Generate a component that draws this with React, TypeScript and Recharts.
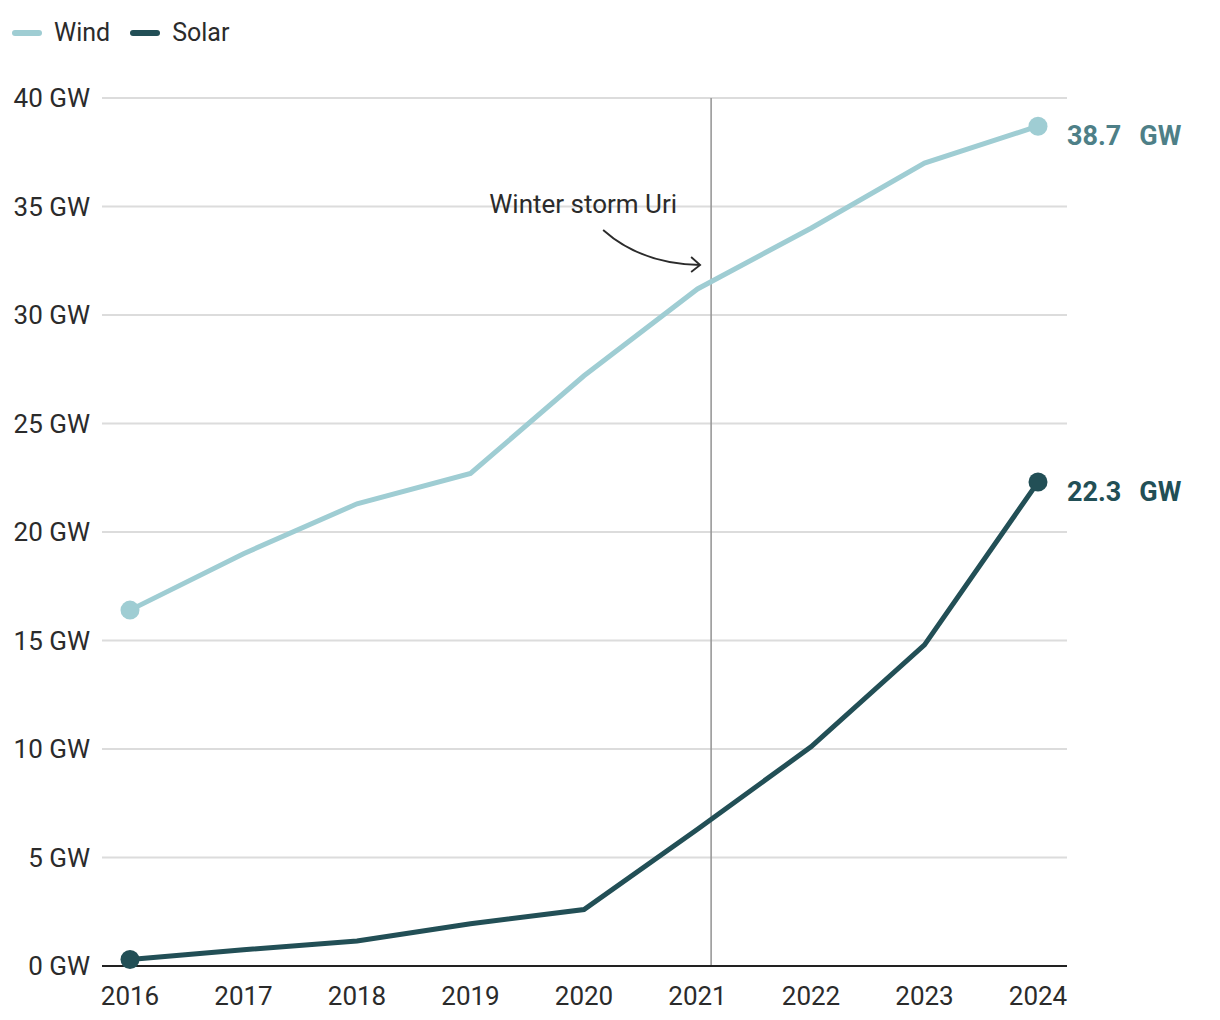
import React from 'react';
import {
  LineChart,
  Line,
  XAxis,
  YAxis,
  CartesianGrid,
  ReferenceLine,
  Legend,
} from 'recharts';

const years = [2016, 2017, 2018, 2019, 2020, 2021, 2022, 2023, 2024];
const wind = [16.4, 19.0, 21.3, 22.7, 27.2, 31.2, 34.0, 37.0, 38.7];
const solar = [0.3, 0.75, 1.15, 1.95, 2.6, 6.3, 10.1, 14.8, 22.3];
const yTicks = [0, 5, 10, 15, 20, 25, 30, 35, 40];
const stormDate = 2021.12;
const stormLabel = 'Winter storm Uri';

const WIND_COLOR = '#9fcdd3';
const WIND_LABEL = '#4e7f87';
const SOLAR_COLOR = '#224f56';
const TEXT = '#2b2b2b';
const FONT = 'Roboto, "Noto Sans", sans-serif';

const data = years.map((year, i) => ({ year, wind: wind[i], solar: solar[i] }));
const last = data.length - 1;

const series = [
  { key: 'wind', name: 'Wind', color: WIND_COLOR, label: WIND_LABEL },
  { key: 'solar', name: 'Solar', color: SOLAR_COLOR, label: SOLAR_COLOR },
];

const EndDot = (color: string) => (props: any) => {
  const { cx, cy, index } = props;
  if (index !== 0 && index !== last) return <g key={`d-${index}`} />;
  return <circle key={`d-${index}`} cx={cx} cy={cy} r={9.5} fill={color} />;
};

const EndLabel = (color: string) => (props: any) => {
  const { x, y, index, value } = props;
  if (index !== last) return null;
  return (
    <text
      x={x + 29}
      y={y + 12}
      fill={color}
      fontSize={27}
      fontWeight={700}
      fontFamily={FONT}
      dominantBaseline="middle"
    >
      <tspan>{value.toFixed(1)}</tspan>
      <tspan dx={18}>GW</tspan>
    </text>
  );
};

const StormNote = (props: any) => {
  const { x, y } = props.viewBox;
  return (
    <g>
      <text
        x={x - 34}
        y={y + 115}
        textAnchor="end"
        fontSize={26}
        fontFamily={FONT}
        fill={TEXT}
      >
        {stormLabel}
      </text>
      <path
        d={`M${x - 108},${y + 132} Q${x - 70},${y + 166} ${x - 11},${y + 167}`}
        fill="none"
        stroke={TEXT}
        strokeWidth={1.8}
      />
      <path
        d={`M${x - 20},${y + 159} L${x - 11},${y + 167} L${x - 20},${y + 174}`}
        fill="none"
        stroke={TEXT}
        strokeWidth={1.8}
      />
    </g>
  );
};

const LegendBox = () => (
  <div style={{ display: 'flex', alignItems: 'center', fontFamily: FONT, fontSize: 25, color: TEXT }}>
    {series.map((s) => (
      <div key={s.key} style={{ display: 'flex', alignItems: 'center', marginRight: 20 }}>
        <span
          style={{
            display: 'inline-block',
            width: 30,
            height: 6,
            borderRadius: 3,
            background: s.color,
            marginRight: 12,
          }}
        />
        <span>{s.name}</span>
      </div>
    ))}
  </div>
);

export default function App() {
  return (
    <div style={{ fontFamily: FONT }}>
      <LineChart
        width={1204}
        height={1004}
        data={data}
        margin={{ top: 90, right: 145, left: 0, bottom: 6 }}
      >
        <CartesianGrid horizontal vertical={false} stroke="#dcdcdc" strokeWidth={2} />
        <XAxis
          dataKey="year"
          type="number"
          domain={[2016, 2024]}
          ticks={years}
          padding={{ left: 28, right: 29 }}
          height={40}
          tickLine={false}
          tickMargin={15}
          axisLine={{ stroke: '#222', strokeWidth: 2 }}
          tick={{ fontSize: 26, fill: TEXT, fontFamily: FONT }}
          interval={0}
        />
        <YAxis
          width={94}
          domain={[0, 40]}
          ticks={yTicks}
          axisLine={false}
          tickLine={false}
          tickMargin={6}
          tick={{ fontSize: 26, fill: TEXT, fontFamily: FONT }}
          tickFormatter={(v: number) => `${v} GW`}
        />
        <Legend
          verticalAlign="middle"
          align="center"
          content={<LegendBox />}
          wrapperStyle={{ top: 10, left: 4, width: 'auto' }}
        />
        <ReferenceLine
          x={stormDate}
          stroke="#999"
          strokeWidth={1.6}
          label={<StormNote />}
        />
        {series.map((s) => (
          <Line
            key={s.key}
            dataKey={s.key}
            name={s.name}
            type="linear"
            stroke={s.color}
            strokeWidth={5}
            dot={EndDot(s.color)}
            activeDot={false}
            label={EndLabel(s.label)}
            isAnimationActive={false}
          />
        ))}
      </LineChart>
    </div>
  );
}
